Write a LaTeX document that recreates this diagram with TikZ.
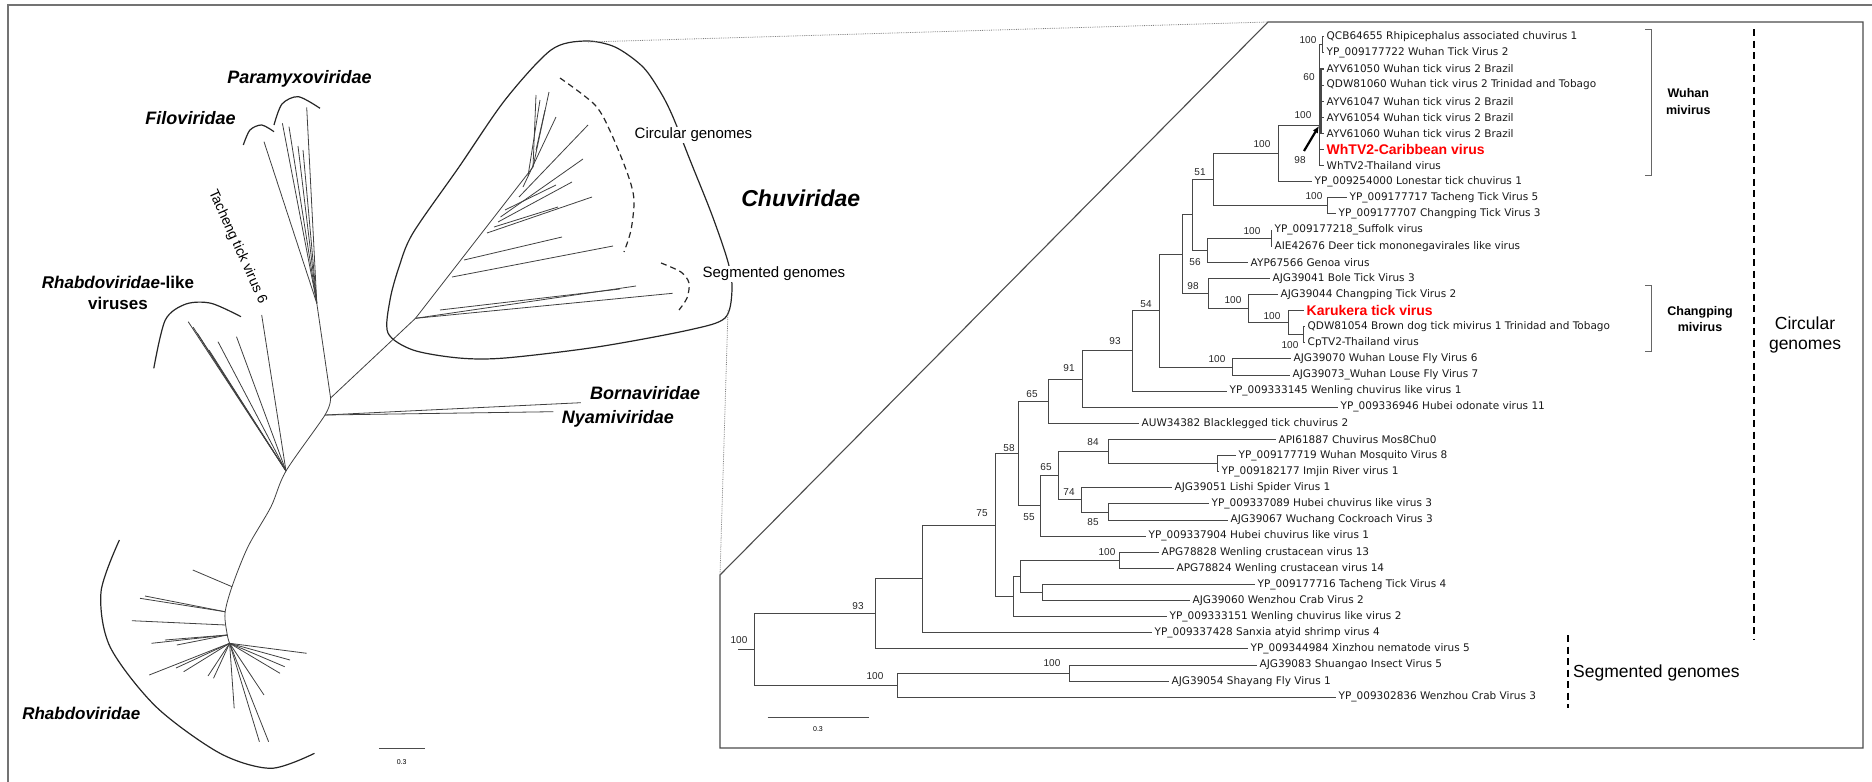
\documentclass[tikz,border=0pt]{standalone}
\usepackage{fontspec}
\setmainfont{Liberation Sans}
\newfontfamily\taxfont{DejaVu Sans}
\usetikzlibrary{positioning}
\usetikzlibrary{calc}
\usetikzlibrary{arrows.meta}
\tikzstyle{branch} = [draw=black!72, line width=0.9pt]
\tikzstyle{twig} = [draw=black!75, line width=0.8pt]
\tikzstyle{taxon} = [anchor=west, inner xsep=2.5pt, inner ysep=0pt, text=black!90, font=\taxfont\fontsize{10.5}{12}\selectfont]
\tikzstyle{hit} = [anchor=west, inner xsep=2.5pt, inner ysep=0pt, text=red, font=\bfseries\fontsize{14}{16}\selectfont]
\tikzstyle{boot} = [inner sep=0pt, text=black!85, font=\fontsize{10}{12}\selectfont]
\tikzstyle{family} = [inner sep=0pt, font=\bfseries\itshape\fontsize{18}{21}\selectfont]
\tikzstyle{genome} = [inner sep=1.5pt, fill=white, font=\fontsize{15}{18}\selectfont]
\tikzstyle{group} = [inner sep=0pt, align=center, font=\bfseries\fontsize{12.5}{16.5}\selectfont]
\tikzstyle{bracket} = [draw=black!60, line width=1pt]
\tikzstyle{split} = [draw=black, line width=2pt, dash pattern=on 7pt off 4.5pt]
\tikzstyle{hull} = [draw=black!85, line width=1.2pt]

\begin{document}
\begin{tikzpicture}[x=1pt, y=-1pt]
    \useasboundingbox (0,0) rectangle (1872,782);
    \draw [black!55, line width=1.2pt] (8,782) -- (8,5) -- (1872,5);

    % ---------- left: unrooted tree ----------
    \coordinate (j0) at (330.6,398);
    \coordinate (jb) at (325,415);
    \coordinate (jr) at (286,471);
    \coordinate (jf) at (229.6,643.3);
    \coordinate (fp) at (316.8,303.3);
    \coordinate (cs) at (415.5,318.3);

    \draw [twig] plot [smooth] coordinates {(j0) (jb) (jr) (271,506.7) (248,546.7) (232,586.7) (225,613.3) (227.3,635) (jf)};
    \draw [twig] (j0) -- (fp);
    \draw [twig] (j0) -- (cs);
    \foreach \p in {(264,141.7), (282.4,123.3), (289,126.7), (306.7,107.3), (303,150), (298,146)}
        \draw [twig] (fp) -- \p;
    \draw [twig] (jr) -- (261.7,315);
    \foreach \p in {(188.2,321.7), (193,327), (197.4,333.3), (209,350), (218,341.7), (236.5,336.7)}
        \draw [twig] (jr) -- \p;
    \draw [twig] (jb) -- (580.8,402.7);
    \draw [twig] (jb) -- (553.3,411.7);
    \draw [twig] (232,586.7) -- (192.8,570);
    \foreach \p in {(140,598.3), (145,596)}
        \draw [twig] (225,611.7) -- \p;
    \draw [twig] (225.9,625) -- (131.8,620.7);
    \foreach \p in {(151.5,643.3), (176.8,645), (165,640)}
        \draw [twig] (227.3,635) -- \p;
    \foreach \p in {(149.2,675), (183.7,671.7), (176,668), (213.5,678.3), (208,676), (234.2,708.3), (259.4,741.7), (268.6,741.7), (264,695), (280,673.3), (306.7,653.3), (284.7,666.7), (290,660)}
        \draw [twig] (jf) -- \p;

    % Chuviridae
    \draw [twig] (cs) -- (533,167) -- (536,95);
    \foreach \a/\b in {{(415.5,318.3)}/{(636,286)}, {(415.5,318.3)}/{(672.6,293.3)}, {(440,310)}/{(620,289)}, {(452,277)}/{(613,246)}, {(464,260)}/{(562,237)}, {(487,233)}/{(592,197)}, {(494,227)}/{(558,207)}, {(498,222)}/{(572,182)}, {(500.5,217)}/{(583,159)}, {(505,210)}/{(556,185)}, {(519,197)}/{(588,125)}, {(523,187)}/{(556,117)}, {(533,167)}/{(549,92)}, {(528,176)}/{(540,100)}, {(536,150)}/{(545,110)}}
        \draw [twig] \a -- \b;
    \draw [hull] plot [smooth cycle] coordinates {(585,41) (615,47) (643,67) (661,93) (673,117) (690,160) (712,215) (728,262) (732,290) (725,318) (689,330) (597,347) (505,358) (459,358) (413,350) (388,333) (390,300) (399,267) (413,233) (459,167) (505,100) (551,50)};
    \draw [hull, dash pattern=on 6pt off 4pt] plot [smooth] coordinates {(560,78) (595,105) (611,133) (628,175) (634,200) (631,230) (624,252)};
    \draw [hull, dash pattern=on 6pt off 4pt] plot [smooth] coordinates {(661,263) (681,272) (689,283) (687,298) (679,310)};

    \draw [hull] plot [smooth] coordinates {(243.3,145) (250,130) (261.7,125) (274,131.7)};
    \draw [hull] plot [smooth] coordinates {(274,125) (282,104) (298.4,96.7) (320,108.3)};
    \draw [hull] plot [smooth] coordinates {(153.8,368.3) (165.3,320) (186,304) (211.2,303.3) (241,316.7)};
    \draw [hull] plot [smooth] coordinates {(119.4,540) (101,592) (110,646.7) (156,706.7) (220,753.3) (271,768.3) (314.5,753.3)};

    \node [family] (paramyxo) at (299.5,79) {Paramyxoviridae};
    \node [family] (filo) at (190.5,118) {Filoviridae};
    \node [family, align=center, font=\bfseries\fontsize{17}{21}\selectfont] (rlike) at (118,292.5) {\textit{Rhabdoviridae}-like\\viruses};
    \node [family, font=\bfseries\itshape\fontsize{17}{20}\selectfont] (rhabdo) at (81.3,713.3) {Rhabdoviridae};
    \node [family, anchor=west] (borna) at (590,393) {Bornaviridae};
    \node [family, anchor=west] (nyami) at (561.7,419) {Nyamiviridae};
    \node [family, font=\bfseries\itshape\fontsize{23}{26}\selectfont] (chuvi) at (800.8,198.3) {Chuviridae};
    \node [inner sep=0pt, rotate=-65.6, font=\fontsize{14}{16}\selectfont] (tacheng) at (237.5,246.7) {Tacheng tick virus 6};
    \node [genome] (circL) at (693.5,135) {Circular genomes};
    \node [genome] (segL) at (773.9,274) {Segmented genomes};

    \coordinate (sbL1) at (378.8,748.3);
    \coordinate (sbL2) at (424.7,748.3);
    \draw [black!70, line width=1pt] (sbL1) -- (sbL2);
    \node [inner sep=0pt, font=\fontsize{7}{8}\selectfont] (sbLt) at (401.7,761.7) {0.3};

    % ---------- zoom box ----------
    \coordinate (bx1) at (720,575);
    \coordinate (bx2) at (1268,22);
    \coordinate (bx3) at (1863,22);
    \coordinate (bx4) at (1863,748);
    \coordinate (bx5) at (720,748);
    \draw [black!70, line width=1.1pt] (bx1) -- (bx2) -- (bx3) -- (bx4) -- (bx5) -- cycle;
    \draw [black!50, line width=0.8pt, densely dotted] (588,42) -- (bx2);
    \draw [black!50, line width=0.8pt, densely dotted] (728,310) -- (bx1);

    % ---------- right: rooted tree ----------
    \node [taxon] (t0) at (1324,36.7) {QCB64655 Rhipicephalus associated chuvirus 1};
    \node [taxon] (t1) at (1324,52.8) {YP\_009177722 Wuhan Tick Virus 2};
    \node [taxon] (t2) at (1324,68.9) {AYV61050 Wuhan tick virus 2 Brazil};
    \node [taxon] (t3) at (1324,85.0) {QDW81060 Wuhan tick virus 2 Trinidad and Tobago};
    \node [taxon] (t4) at (1324,101.1) {AYV61047 Wuhan tick virus 2 Brazil};
    \node [taxon] (t5) at (1324,117.3) {AYV61054 Wuhan tick virus 2 Brazil};
    \node [taxon] (t6) at (1324,133.4) {AYV61060 Wuhan tick virus 2 Brazil};
    \node [hit] (t7) at (1324,149.5) {WhTV2-Caribbean virus};
    \node [taxon] (t8) at (1324,165.6) {WhTV2-Thailand virus};
    \node [taxon] (t9) at (1312,181.7) {YP\_009254000 Lonestar tick chuvirus 1};
    \node [taxon] (t10) at (1347,197.8) {YP\_009177717 Tacheng Tick Virus 5};
    \node [taxon] (t11) at (1336,213.9) {YP\_009177707 Changping Tick Virus 3};
    \node [taxon] (t12) at (1272,230.0) {YP\_009177218\_Suffolk virus};
    \node [taxon] (t13) at (1272,246.1) {AIE42676 Deer tick mononegavirales like virus};
    \node [taxon] (t14) at (1248,262.2) {AYP67566 Genoa virus};
    \node [taxon] (t15) at (1270,278.4) {AJG39041 Bole Tick Virus 3};
    \node [taxon] (t16) at (1278,294.5) {AJG39044 Changping Tick Virus 2};
    \node [hit, xshift=4pt] (t17) at (1300,310.6) {Karukera tick virus};
    \node [taxon] (t18) at (1305,326.7) {QDW81054 Brown dog tick mivirus 1 Trinidad and Tobago};
    \node [taxon] (t19) at (1305,342.8) {CpTV2-Thailand virus};
    \node [taxon] (t20) at (1291,358.9) {AJG39070 Wuhan Louse Fly Virus 6};
    \node [taxon] (t21) at (1290,375.0) {AJG39073\_Wuhan Louse Fly Virus 7};
    \node [taxon] (t22) at (1227,391.1) {YP\_009333145 Wenling chuvirus like virus 1};
    \node [taxon] (t23) at (1338,407.2) {YP\_009336946 Hubei odonate virus 11};
    \node [taxon] (t24) at (1139,423.3) {AUW34382 Blacklegged tick chuvirus 2};
    \node [taxon] (t25) at (1276,439.5) {API61887 Chuvirus Mos8Chu0};
    \node [taxon] (t26) at (1236,455.6) {YP\_009177719 Wuhan Mosquito Virus 8};
    \node [taxon] (t27) at (1219,471.7) {YP\_009182177 Imjin River virus 1};
    \node [taxon] (t28) at (1172,487.8) {AJG39051 Lishi Spider Virus 1};
    \node [taxon] (t29) at (1209,503.9) {YP\_009337089 Hubei chuvirus like virus 3};
    \node [taxon] (t30) at (1228,520.0) {AJG39067 Wuchang Cockroach Virus 3};
    \node [taxon] (t31) at (1146,536.1) {YP\_009337904 Hubei chuvirus like virus 1};
    \node [taxon] (t32) at (1159,552.2) {APG78828 Wenling crustacean virus 13};
    \node [taxon] (t33) at (1174,568.3) {APG78824 Wenling crustacean virus 14};
    \node [taxon] (t34) at (1255,584.4) {YP\_009177716 Tacheng Tick Virus 4};
    \node [taxon] (t35) at (1190,600.6) {AJG39060 Wenzhou Crab Virus 2};
    \node [taxon] (t36) at (1167,616.7) {YP\_009333151 Wenling chuvirus like virus 2};
    \node [taxon] (t37) at (1152,632.8) {YP\_009337428 Sanxia atyid shrimp virus 4};
    \node [taxon] (t38) at (1248,648.9) {YP\_009344984 Xinzhou nematode virus 5};
    \node [taxon] (t39) at (1257,665.0) {AJG39083 Shuangao Insect Virus 5};
    \node [taxon] (t40) at (1169,681.1) {AJG39054 Shayang Fly Virus 1};
    \node [taxon] (t41) at (1336,697.2) {YP\_009302836 Wenzhou Crab Virus 3};

    \coordinate (nA) at (1322,44.75);
    \coordinate (nB) at (1321,101.1);
    \coordinate (nW) at (1319.5,125);
    \coordinate (nWL) at (1278,153.35);
    \coordinate (nTT) at (1327,205.85);
    \coordinate (n51) at (1213,179.6);
    \coordinate (nSD) at (1271,238.08);
    \coordinate (n56) at (1207,250.16);
    \coordinate (nX) at (1192,214.88);
    \coordinate (nCp) at (1303,334.74);
    \coordinate (nK) at (1288,322.65);
    \coordinate (nC2) at (1248,308.56);
    \coordinate (n98) at (1208,293.45);
    \coordinate (nY) at (1182,254.17);
    \coordinate (nLF) at (1232,366.95);
    \coordinate (n54) at (1159,310.56);
    \coordinate (n93b) at (1132,350.84);
    \coordinate (n91) at (1082,379.04);
    \coordinate (n65a) at (1048,401.19);
    \coordinate (nMI) at (1217,463.6);
    \coordinate (n84) at (1108,451.5);
    \coordinate (n85) at (1108,511.95);
    \coordinate (n74) at (1081,499.86);
    \coordinate (n65b) at (1058,475.68);
    \coordinate (n55) at (1040,505.9);
    \coordinate (n58) at (1018,453.55);
    \coordinate (nWC) at (1119,560.28);
    \coordinate (nTW) at (1042,592.5);
    \coordinate (nQ) at (1020,576.39);
    \coordinate (nQQ) at (1013,596.5);
    \coordinate (n75) at (995,525.0);
    \coordinate (nP) at (922,578.9);
    \coordinate (n93a) at (875,613.9);
    \coordinate (nSI) at (1069,673.05);
    \coordinate (n100s) at (897,685.13);
    \coordinate (root) at (754,649.5);
    \coordinate (stub) at (738,649.5);

    \draw [branch] (stub) -- (root);
    \draw [branch] (root) |- (n93a);
    \draw [branch] (root) |- (n100s);
    \draw [branch] (n93a) |- (nP);
    \draw [branch] (n93a) |- (t38.west);
    \draw [branch] (nP) |- (n75);
    \draw [branch] (nP) |- (t37.west);
    \draw [branch] (n75) |- (n58);
    \draw [branch] (n75) |- (nQQ);
    \draw [branch] (nQQ) |- (nQ);
    \draw [branch] (nQQ) |- (t36.west);
    \draw [branch] (nQ) |- (nWC);
    \draw [branch] (nQ) |- (nTW);
    \draw [branch] (nWC) |- (t32.west);
    \draw [branch] (nWC) |- (t33.west);
    \draw [branch] (nTW) |- (t34.west);
    \draw [branch] (nTW) |- (t35.west);
    \draw [branch] (n58) |- (n65a);
    \draw [branch] (n58) |- (n55);
    \draw [branch] (n55) |- (n65b);
    \draw [branch] (n55) |- (t31.west);
    \draw [branch] (n65b) |- (n84);
    \draw [branch] (n65b) |- (n74);
    \draw [branch] (n84) |- (t25.west);
    \draw [branch] (n84) |- (nMI);
    \draw [branch] (nMI) |- (t26.west);
    \draw [branch] (nMI) |- (t27.west);
    \draw [branch] (n74) |- (t28.west);
    \draw [branch] (n74) |- (n85);
    \draw [branch] (n85) |- (t29.west);
    \draw [branch] (n85) |- (t30.west);
    \draw [branch] (n65a) |- (n91);
    \draw [branch] (n65a) |- (t24.west);
    \draw [branch] (n91) |- (n93b);
    \draw [branch] (n91) |- (t23.west);
    \draw [branch] (n93b) |- (n54);
    \draw [branch] (n93b) |- (t22.west);
    \draw [branch] (n54) |- (nY);
    \draw [branch] (n54) |- (nLF);
    \draw [branch] (nLF) |- (t20.west);
    \draw [branch] (nLF) |- (t21.west);
    \draw [branch] (nY) |- (nX);
    \draw [branch] (nY) |- (n98);
    \draw [branch] (n98) |- (t15.west);
    \draw [branch] (n98) |- (nC2);
    \draw [branch] (nC2) |- (t16.west);
    \draw [branch] (nC2) |- (nK);
    \draw [branch] (nK) |- (t17.west);
    \draw [branch] (nK) |- (nCp);
    \draw [branch] (nCp) |- (t18.west);
    \draw [branch] (nCp) |- (t19.west);
    \draw [branch] (nX) |- (n51);
    \draw [branch] (nX) |- (n56);
    \draw [branch] (n56) |- (nSD);
    \draw [branch] (n56) |- (t14.west);
    \draw [branch] (nSD) |- (t12.west);
    \draw [branch] (nSD) |- (t13.west);
    \draw [branch] (n51) |- (nWL);
    \draw [branch] (n51) |- (nTT);
    \draw [branch] (nTT) |- (t10.west);
    \draw [branch] (nTT) |- (t11.west);
    \draw [branch] (nWL) |- (nW);
    \draw [branch] (nWL) |- (t9.west);
    \draw [branch] (nW) |- (nA);
    \draw [branch] (nW) |- (t8.west);
    \draw [branch] (nW |- t7.west) -- (t7.west);
    \draw [branch] (nA) |- (t0.west);
    \draw [branch] (nA) |- (t1.west);
    \draw [branch, line width=1.6pt] (nB) |- (t2.west);
    \draw [branch, line width=1.6pt] (nB) |- (t6.west);
    \foreach \t in {t3,t4,t5}
        \draw [branch] (nB |- \t.west) -- (\t.west);
    \draw [branch] (nSI) |- (t39.west);
    \draw [branch] (nSI) |- (t40.west);
    \draw [branch] (n100s) |- (nSI);
    \draw [branch] (n100s) |- (t41.west);

    \coordinate (arw) at (1304,151);
    \draw [-{Latex[length=7pt,width=6pt]}, line width=2.2pt, shorten >=1pt] (arw) -- (nW);

    \node [boot] (b1) at (739,640) {100};
    \node [boot] (b2) at (858,606) {93};
    \node [boot] (b3) at (982,513) {75};
    \node [boot] (b4) at (1009,448) {58};
    \node [boot] (b5) at (1032,394) {65};
    \node [boot] (b6) at (1069,368) {91};
    \node [boot] (b7) at (1115,341) {93};
    \node [boot] (b8) at (1146,304) {54};
    \node [boot] (b9) at (1029,517) {55};
    \node [boot] (b10) at (1046,467) {65};
    \node [boot] (b11) at (1093,442) {84};
    \node [boot] (b12) at (1069,492) {74};
    \node [boot] (b13) at (1093,522) {85};
    \node [boot] (b14) at (1107,552) {100};
    \node [boot] (b15) at (875,676) {100};
    \node [boot] (b16) at (1052,663) {100};
    \node [boot] (b17) at (1217,359) {100};
    \node [boot] (b18) at (1195,262) {56};
    \node [boot] (b19) at (1193,286) {98};
    \node [boot] (b20) at (1233,300) {100};
    \node [boot] (b21) at (1272,316) {100};
    \node [boot] (b22) at (1290,345) {100};
    \node [boot] (b23) at (1252,231) {100};
    \node [boot] (b24) at (1200,172) {51};
    \node [boot] (b25) at (1262,144) {100};
    \node [boot] (b26) at (1314,196) {100};
    \node [boot] (b27) at (1308,40) {100};
    \node [boot] (b28) at (1309,77) {60};
    \node [boot] (b29) at (1303,115) {100};
    \node [boot] (b30) at (1300,160) {98};

    \coordinate (sbR1) at (767.7,717.3);
    \coordinate (sbR2) at (869,717.3);
    \draw [black!70, line width=1pt] (sbR1) -- (sbR2);
    \node [inner sep=0pt, font=\fontsize{7}{8}\selectfont] (sbRt) at (818,729) {0.3};

    % ---------- groups ----------
    \draw [bracket] (1645,29) -- (1651.7,29) -- (1651.7,175) -- (1645,175);
    \draw [bracket] (1645,285) -- (1651.7,285) -- (1651.7,351.7) -- (1645,351.7);
    \node [group] (wuhan) at (1688.3,101.7) {Wuhan\\mivirus};
    \node [group, font=\bfseries\fontsize{12.5}{15.7}\selectfont] (changping) at (1700,318.8) {Changping\\mivirus};
    \coordinate (cg1) at (1754,29);
    \coordinate (cg2) at (1754,640);
    \draw [split] (cg1) -- (cg2);
    \node [inner sep=0pt, align=center, font=\fontsize{17.5}{20}\selectfont] (circR) at (1805,335) {Circular\\genomes};
    \coordinate (sg1) at (1568.3,635);
    \coordinate (sg2) at (1568.3,708.3);
    \draw [split] (sg1) -- (sg2);
    \node [inner sep=0pt, anchor=west, font=\fontsize{17.5}{20}\selectfont] (segR) at (1573,672.7) {Segmented genomes};
\end{tikzpicture}
\end{document}
